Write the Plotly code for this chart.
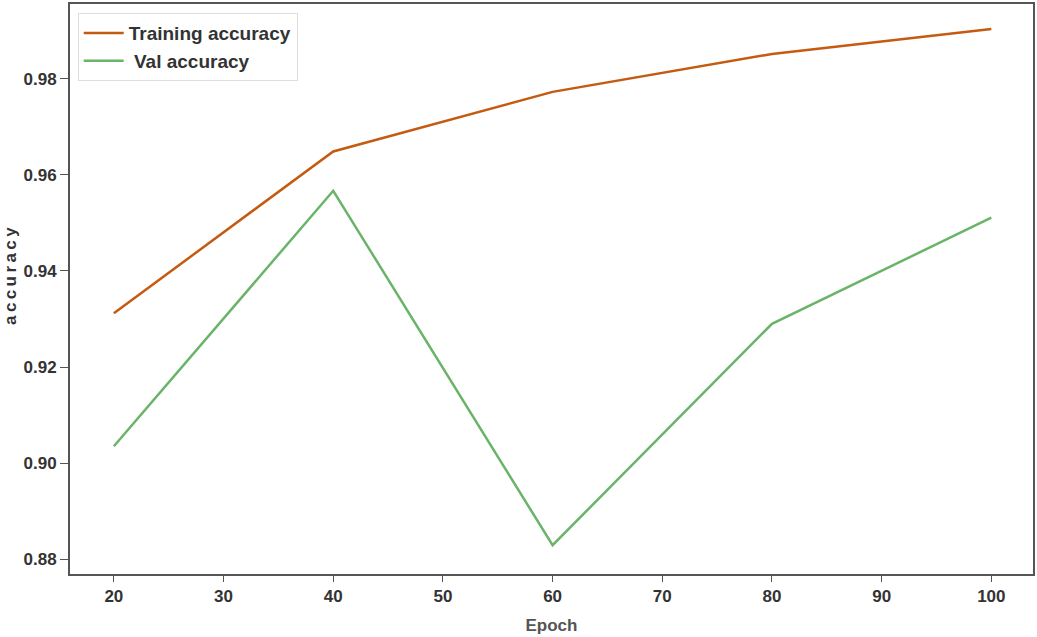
import plotly.graph_objects as go

epochs = [20, 40, 60, 80, 100]
train_acc = [0.9312, 0.9649, 0.9773, 0.9852, 0.9904]
val_acc = [0.9035, 0.9567, 0.8829, 0.9290, 0.9511]
x_ticks = [20, 30, 40, 50, 60, 70, 80, 90, 100]
y_ticks = [0.88, 0.90, 0.92, 0.94, 0.96, 0.98]

FONT = "Liberation Sans Narrow, Liberation Sans, Arial, sans-serif"

fig = go.Figure()
fig.add_trace(go.Scatter(x=epochs, y=train_acc, mode="lines", name="Training accuracy",
                         line=dict(color="#c55a11", width=2.5)))
fig.add_trace(go.Scatter(x=epochs, y=val_acc, mode="lines", name=" Val accuracy",
                         line=dict(color="#6ab46a", width=2.5)))

fig.update_layout(
    width=1037, height=637,
    margin=dict(l=70, r=2, t=4, b=63),
    plot_bgcolor="white", paper_bgcolor="white",
    font=dict(family=FONT, color="#333333"),
    showlegend=True,
    legend=dict(x=0.008, y=0.984, xanchor="left", yanchor="top",
                bgcolor="white", bordercolor="#dddddd", borderwidth=1,
                font=dict(size=19, family=FONT, color="#333333", weight="bold"),
                tracegroupgap=0, itemwidth=40),
)
fig.update_xaxes(
    range=[16, 103.8], tickvals=x_ticks, ticktext=[str(v) for v in x_ticks],
    showgrid=False, zeroline=False, showline=True, linecolor="#555555", linewidth=2,
    mirror=True, ticks="outside", ticklen=6, tickcolor="#555555",
    tickfont=dict(size=17, family=FONT, color="#333333", weight="bold"),
    title=dict(text="Epoch", font=dict(size=17, family=FONT, color="#555555", weight="bold"), standoff=14),
)
fig.update_yaxes(
    range=[0.8769, 0.9956], tickvals=y_ticks, ticktext=[f"{v:.2f}" for v in y_ticks],
    showgrid=False, zeroline=False, showline=True, linecolor="#555555", linewidth=2,
    mirror=True, ticks="outside", ticklen=8, tickcolor="#555555",
    tickfont=dict(size=17, family=FONT, color="#333333", weight="bold"),
)
fig.add_annotation(
    text="a\u2009c\u2009c\u2009u\u2009r\u2009a\u2009c\u2009y", textangle=-90,
    xref="paper", yref="paper", x=-0.0612, y=0.523, xanchor="center", yanchor="middle",
    showarrow=False, font=dict(size=17, family=FONT, color="#333333", weight="bold"),
)

fig.write_html("out.html", config={"displayModeBar": False},
               post_script="document.body.style.margin='0';")
